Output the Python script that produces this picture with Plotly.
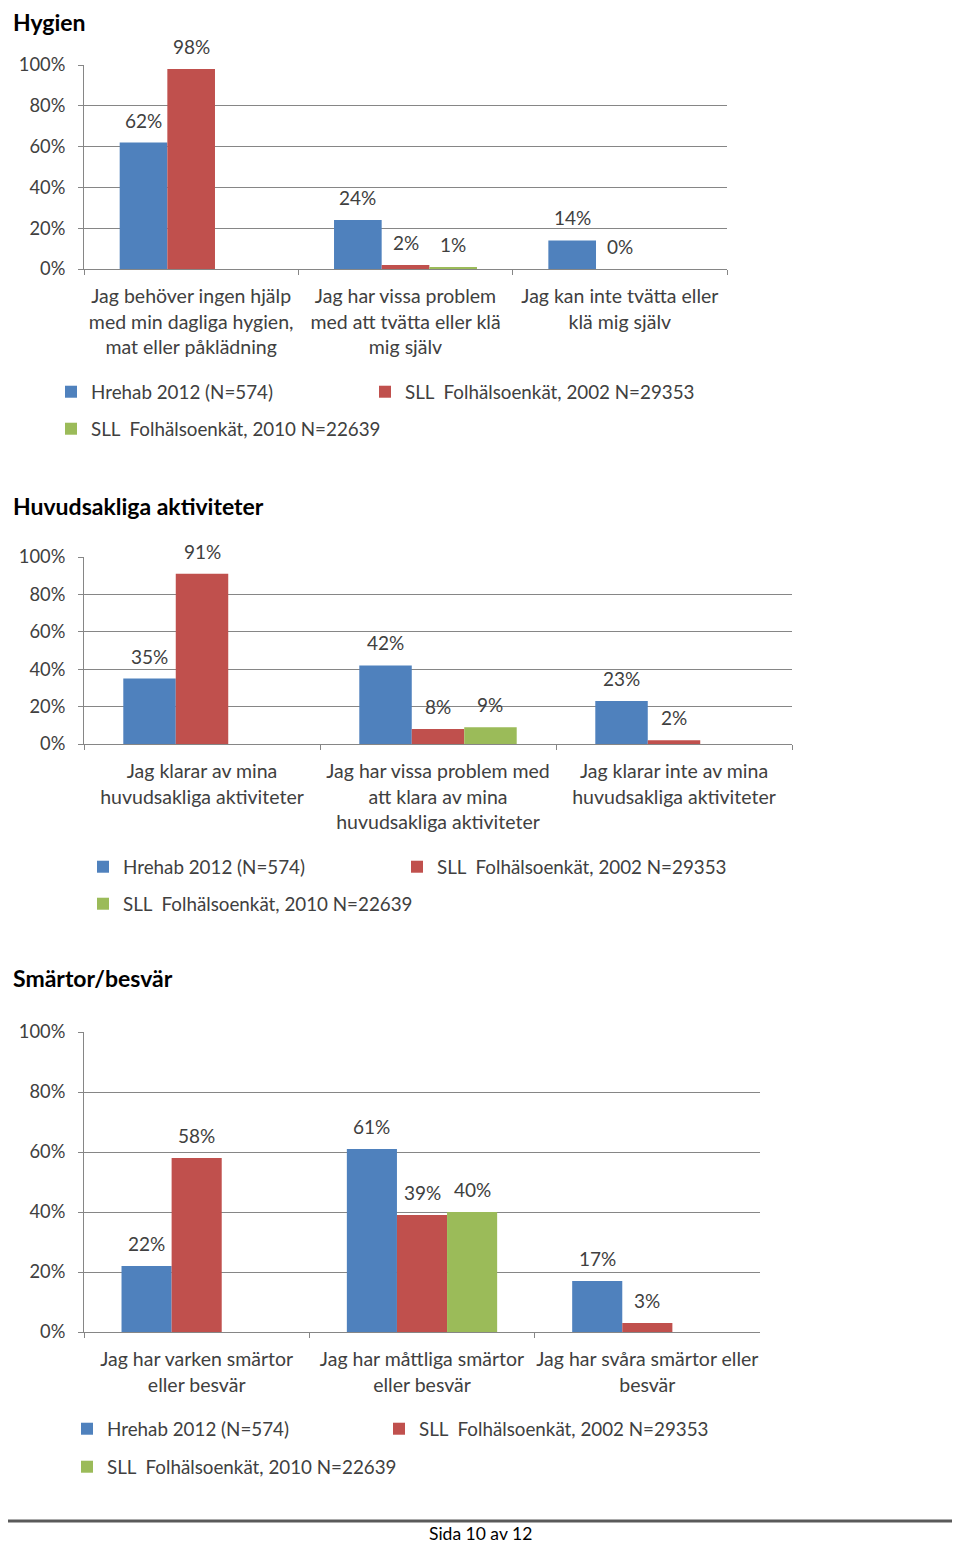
import plotly.graph_objects as go

# ---------------- data ----------------
series_names = ["Hrehab 2012 (N=574)",
                "SLL\u00a0 Folhälsoenkät, 2002 N=29353",
                "SLL\u00a0 Folhälsoenkät, 2010 N=22639"]
series_colors = ["#4F81BD", "#C0504D", "#9BBB59"]

chart_titles = ["Hygien", "Huvudsakliga aktiviteter", "Smärtor/besvär"]

hyg_categories = ["Jag behöver ingen hjälp<br>med min dagliga hygien,<br>mat eller påklädning",
                  "Jag har vissa problem<br>med att tvätta eller klä<br>mig själv",
                  "Jag kan inte tvätta eller<br>klä mig själv"]
hyg_hrehab = [62, 24, 14]
hyg_sll2002 = [98, 2, 0]
hyg_sll2010 = [None, 1, None]

akt_categories = ["Jag klarar av mina<br>huvudsakliga aktiviteter",
                  "Jag har vissa problem med<br>att klara av mina<br>huvudsakliga aktiviteter",
                  "Jag klarar inte av mina<br>huvudsakliga aktiviteter"]
akt_hrehab = [35, 42, 23]
akt_sll2002 = [91, 8, 2]
akt_sll2010 = [None, 9, None]

sma_categories = ["Jag har varken smärtor<br>eller besvär",
                  "Jag har måttliga smärtor<br>eller besvär",
                  "Jag har svåra smärtor eller<br>besvär"]
sma_hrehab = [22, 61, 17]
sma_sll2002 = [58, 39, 3]
sma_sll2010 = [None, 40, None]

y_tick_values = [0, 20, 40, 60, 80, 100]
y_tick_labels = ["0%", "20%", "40%", "60%", "80%", "100%"]
footer_text = "Sida 10 av 12"

charts = [
    (hyg_categories, [hyg_hrehab, hyg_sll2002, hyg_sll2010]),
    (akt_categories, [akt_hrehab, akt_sll2002, akt_sll2010]),
    (sma_categories, [sma_hrehab, sma_sll2002, sma_sll2010]),
]

# ---------------- layout geometry (page pixels) ----------------
PAGE_OFF = 8                 # default body margin of the html page
W, H = 960 - PAGE_OFF, 1545 - PAGE_OFF
FONT = "Lato"
TXT = "#404040"
GRID = "#868686"
BARGAP = 0.333

plot_boxes = [(84, 727, 65, 269), (84, 792, 557, 744), (84, 760, 1032, 1332)]
title_y = [None, 506, 978]
# (left of legend square col 1, col 2, row 1 y, row 2 y)
legend_pos = [(72, 386, 392, 429), (104, 418, 867, 904), (88, 400, 1429, 1467)]


def fx(x):
    return (x - PAGE_OFF) / W


def fy(y):
    return 1 - (y - PAGE_OFF) / H


fig = go.Figure()
annotations = []
layout_extra = {}

for ci, (cats, values) in enumerate(charts):
    ax = "" if ci == 0 else str(ci + 1)
    lc1, lc2, lr1, lr2 = legend_pos[ci]
    item_pos = [(lc1, lr1), (lc2, lr1), (lc1, lr2)]
    for si, vals in enumerate(values):
        k = ci * 3 + si + 1
        lname = "legend" if k == 1 else "legend%d" % k
        fig.add_trace(go.Bar(
            x=cats, y=vals, name=series_names[si],
            marker=dict(color=series_colors[si], line=dict(width=0)),
            xaxis="x" + ax, yaxis="y" + ax,
            offsetgroup=str(si),
            legend=lname,
            showlegend=True,
            hoverinfo="skip",
        ))
        lx, ly = item_pos[si]
        layout_extra[lname] = dict(
            orientation="h", x=fx(lx - 21), y=fy(ly), xref="paper", yref="paper",
            xanchor="left", yanchor="middle",
            font=dict(family=FONT, size=18.8, color=TXT),
            bgcolor="rgba(0,0,0,0)", borderwidth=0, itemclick=False,
            itemdoubleclick=False)
        bw = (1 - BARGAP) / len(values)
        for i, v in enumerate(vals):
            if v is None:
                continue
            annotations.append(dict(
                x=i + (si - 1) * bw, y=v, xref="x" + ax, yref="y" + ax,
                text="%d%%" % v, showarrow=False, yanchor="bottom",
                yshift=9, font=dict(family=FONT, size=19, color=TXT)))

    x0, x1, y0, y1 = plot_boxes[ci]
    layout_extra["xaxis" + ax] = dict(
        domain=[fx(x0), fx(x1)], anchor="y" + ax, type="category",
        automargin=False, tickangle=0,
        showline=True, linecolor=GRID, linewidth=1,
        ticks="outside", tickson="boundaries", ticklen=5, tickcolor=GRID,
        ticklabelstandoff=10,
        tickfont=dict(family=FONT, size=19.5, color=TXT),
        showgrid=False, zeroline=False, fixedrange=True)
    layout_extra["yaxis" + ax] = dict(
        domain=[fy(y1), fy(y0)], anchor="x" + ax, range=[0, 100],
        automargin=False,
        tickvals=y_tick_values, ticktext=y_tick_labels,
        showline=True, linecolor=GRID, linewidth=1,
        ticks="outside", ticklen=5, tickcolor=GRID,
        ticklabelstandoff=9,
        showgrid=True, gridcolor=GRID, gridwidth=1, zeroline=False,
        tickfont=dict(family=FONT, size=18.3, color=TXT), fixedrange=True)

    if title_y[ci] is None:
        annotations.append(dict(
            x=fx(11), y=1, xref="paper", yref="paper",
            xanchor="left", yanchor="top", yshift=2, showarrow=False,
            text="<b>%s</b>" % chart_titles[ci],
            font=dict(family=FONT, size=23, color="#000000")))
    else:
        annotations.append(dict(
            x=fx(11), y=fy(title_y[ci]), xref="paper", yref="paper",
            xanchor="left", yanchor="middle", showarrow=False,
            text="<b>%s</b>" % chart_titles[ci],
            font=dict(family=FONT, size=23, color="#000000")))

annotations.append(dict(
    x=fx(480), y=fy(1533), xref="paper", yref="paper", xanchor="center",
    yanchor="middle", showarrow=False, text=footer_text,
    font=dict(family=FONT, size=17.5, color="#000000")))

fig.update_layout(
    template="none",
    width=W, height=H, autosize=False,
    margin=dict(l=0, r=0, t=0, b=0, pad=0, autoexpand=False),
    paper_bgcolor="white", plot_bgcolor="white",
    barmode="group", bargap=BARGAP, bargroupgap=0,
    annotations=annotations,
    shapes=[dict(type="line", xref="paper", yref="paper", x0=0, x1=1,
                 y0=fy(1521), y1=fy(1521), line=dict(color="#5A5A5A", width=3))],
    **layout_extra,
)

fig.write_html("out.html")
